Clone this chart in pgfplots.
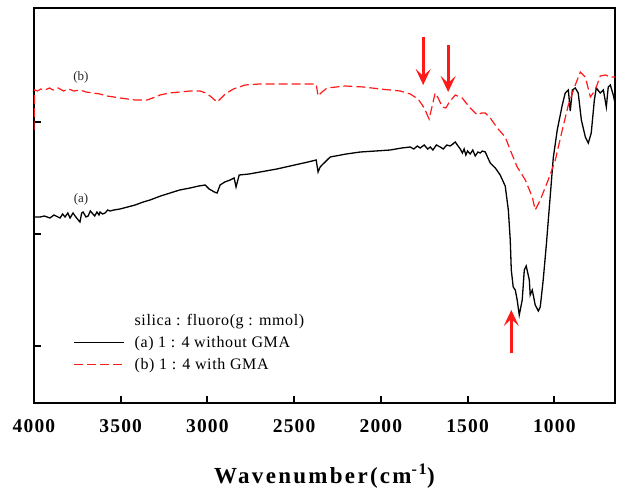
\documentclass[border=0pt]{standalone}
\usepackage{fontspec}
\setmainfont{Liberation Serif}
\newfontfamily\tickfont[LetterSpace=6]{Liberation Serif}
\newfontfamily\labfont[LetterSpace=10]{Liberation Serif}
\newfontfamily\legfont[LetterSpace=4]{Liberation Serif}
\usepackage{pgfplots}
\pgfplotsset{compat=1.18}
\usetikzlibrary{arrows.meta}
\definecolor{specred}{HTML}{FF1A1A}

\pgfplotstableread{
wn y
4000 186
3965 186
3940 187
3908 185
3885 188
3850 185
3835 189
3821 186
3805 190
3792 185
3775 190
3763 187
3745 183
3735 181
3725 190
3717 191
3700 186
3688 187
3675 192
3665 190
3650 187
3637 191
3625 188
3619 191
3605 189
3590 190
3575 193
3562 192
3540 193
3504 194
3460 196
3417 198
3370 201
3331 203
3270 207
3215 210
3160 213
3100 215
3050 217
3013 218
2990 214
2960 211
2944 210
2927 218
2900 221
2869 223
2846 225
2835 216
2817 228
2760 229
2696 231
2600 234
2523 237
2420 241
2373 243
2362 231
2350 236
2339 238
2310 243
2292 246
2200 249
2119 251
2030 252
1946 253
1880 255
1831 256
1810 254
1790 257
1773 255
1750 258
1730 254
1715 256
1700 253
1680 258
1658 256
1640 254
1620 258
1600 257
1585 259
1571 261
1555 257
1542 254
1530 250
1520 254
1510 248
1500 252
1485 249
1470 253
1456 247
1440 251
1427 250
1415 252
1398 251
1380 244
1369 240
1340 235
1312 228
1283 217
1265 193
1254 163
1248 133
1237 116
1225 113
1214 103
1202 88
1185 103
1173 133
1162 137
1144 123
1139 108
1127 113
1110 98
1092 92
1081 96
1064 123
1046 158
1023 208
1006 245
983 273
954 298
937 310
919 313
908 292
896 313
879 315
862 310
844 283
821 266
804 260
787 270
769 303
758 315
735 310
717 313
700 296
689 316
677 318
660 308
650 300
}\specA

\pgfplotstableread{
wn y
4000 273
3996 313
3980 312
3960 314
3937 313
3910 315
3890 313
3860 315
3830 312
3800 314
3770 312
3735 313
3700 311
3660 310
3619 309
3580 307
3540 306
3504 305
3460 304
3417 303
3348 303
3300 306
3273 308
3220 310
3158 311
3100 312
3042 312
3010 310
2985 307
2944 301
2920 305
2898 309
2850 314
2783 318
2700 319
2581 319
2373 319
2362 307
2339 311
2310 315
2206 317
2100 316
2004 314
1889 312
1831 309
1785 304
1750 295
1722 284
1700 300
1687 310
1670 305
1645 296
1625 295
1605 301
1571 308
1531 305
1485 295
1444 288
1420 290
1398 290
1369 285
1329 275
1283 266
1254 253
1214 236
1167 223
1127 206
1110 193
1081 203
1035 223
994 243
954 273
919 298
879 318
850 331
821 326
792 306
764 313
735 327
706 328
677 326
650 326
}\specB

\begin{document}
\begin{tikzpicture}
\begin{axis}[
  scale only axis, width=581pt, height=395pt,
  x dir=reverse, xmin=650, xmax=4000, ymin=0, ymax=395,
  axis line style={line width=2pt},
  xtick={1000,1500,...,4000}, xtick pos=bottom,
  ytick={57,169,281}, yticklabels={}, ytick pos=left,
  tick align=inside, major tick length=7pt,
  tick style={line width=2pt, black},
  /pgf/number format/assume math mode=true,
  /pgf/number format/set thousands separator={},
  xticklabel style={font=\tickfont\bfseries\fontsize{19.5}{22}\selectfont, yshift=-13pt},
  xlabel={Wavenumber(cm\textsuperscript{-1})},
  xlabel style={font=\labfont\bfseries\fontsize{23}{27}\selectfont, yshift=-24pt},
  legend style={draw=none, fill=none, at={(axis cs:3792,93)}, anchor=north west,
    font=\legfont\fontsize{16}{18}\selectfont, row sep=5.5pt,
    /tikz/every odd column/.append style={column sep=8pt},
    legend image code/.code={\draw[#1] (0pt,0pt) -- (50pt,0pt);}},
  legend cell align=left,
]
\addlegendimage{empty legend}
\addlegendentry{silica : fluoro(g : mmol)}
\addplot[black, line width=1.3pt] table[x=wn, y=y] {\specA};
\addlegendentry{(a) 1 : 4 without GMA}
\addplot[specred, line width=1.2pt, dash pattern=on 9pt off 4pt] table[x=wn, y=y] {\specB};
\addlegendentry{(b) 1 : 4 with GMA}
\node[font=\fontsize{13}{15}\selectfont, text=black!85] at (axis cs:3729,326) {(b)};
\node[font=\fontsize{13}{15}\selectfont, text=black!85] at (axis cs:3729,204) {(a)};
\draw[specred, line width=3pt, -{Stealth[length=16pt, width=15pt, inset=7pt]}] (axis cs:1756,366) -- (axis cs:1756,318);
\draw[specred, line width=3pt, -{Stealth[length=16pt, width=15pt, inset=7pt]}] (axis cs:1612,358) -- (axis cs:1612,311);
\draw[specred, line width=3pt, -{Stealth[length=16pt, width=15pt, inset=7pt]}] (axis cs:1248,50) -- (axis cs:1248,93);
\end{axis}
\path (current axis.south west) ++(-34pt,-85pt) rectangle ([xshift=5pt,yshift=8pt]current axis.north east);
\end{tikzpicture}
\end{document}
